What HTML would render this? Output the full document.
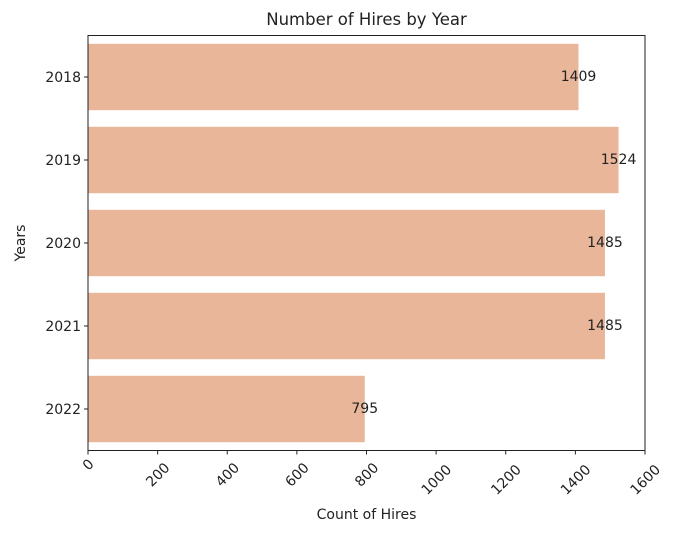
<!DOCTYPE html>
<html><head><meta charset="utf-8"><style>
body{margin:0;background:#fff;width:697px;height:536px;overflow:hidden}
text{font-family:"DejaVu Sans","Liberation Sans",sans-serif;fill:#222}
</style></head><body>
<svg id="chart" width="697" height="536"></svg>
<script>
const years=["2018","2019","2020","2021","2022"];
const hires=[1409,1524,1485,1485,795];
const xticks=[0,200,400,600,800,1000,1200,1400,1600];
const NS="http://www.w3.org/2000/svg";
const svg=document.getElementById('chart');
const L=88,R=645,T=35.5,B=450.5,xmax=1600;
const x=v=>L+(R-L)*v/xmax;
const band=(B-T)/years.length;
const y=i=>T+band*(i+0.5);
function mk(tag,attrs,txt){const e=document.createElementNS(NS,tag);for(const k in attrs)e.setAttribute(k,attrs[k]);if(txt!==undefined)e.textContent=txt;svg.appendChild(e);return e;}
years.forEach((yr,i)=>{
 const r=mk('rect',{x:L,y:y(i)-band*0.4,width:x(hires[i])-L,height:band*0.8,fill:'#e9b699'});
 
 
 const t=mk('text',{x:x(hires[i]),y:y(i)+4,'font-size':14,'text-anchor':'middle'},hires[i]);
 
 
 const tk=mk('line',{x1:L-4,x2:L,y1:y(i),y2:y(i),stroke:'#222'});
 
 
 const tl=mk('text',{x:L-7,y:y(i)+5,'font-size':14,'text-anchor':'end'},yr);
 
 
});
xticks.forEach(v=>{
 const tk=mk('line',{x1:x(v),x2:x(v),y1:B,y2:B+4,stroke:'#222'});
 
 
 const tl=mk('text',{x:0,y:5,'font-size':14,'text-anchor':'middle',transform:`translate(${x(v)},${B+9+String(v).length*5}) rotate(-45)`},v);
 
 
});
const fr=mk('rect',{x:L,y:T,width:R-L,height:B-T,fill:'none',stroke:'#222','stroke-width':1});


const ti=mk('text',{x:(L+R)/2,y:25,'font-size':16.5,'text-anchor':'middle'},'Number of Hires by Year');


const xl=mk('text',{x:(L+R)/2,y:519,'font-size':14,'text-anchor':'middle'},'Count of Hires');


const yl=mk('text',{x:0,y:0,'font-size':14,'text-anchor':'middle',transform:`translate(25,${(T+B)/2}) rotate(-90)`},'Years');


</script>
</body></html>
